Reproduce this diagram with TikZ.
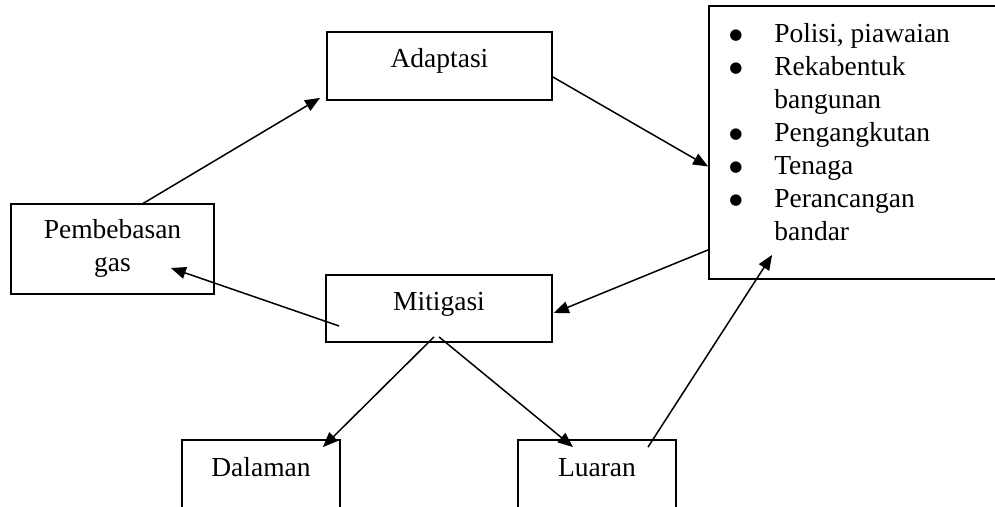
\documentclass[tikz,border=0pt]{standalone}
\usepackage{fontspec}
\setmainfont{Liberation Serif}
\newfontfamily\bulfont{DejaVu Sans}
\usetikzlibrary{arrows.meta}
\newcommand{\bigbul}{\makebox[45pt][l]{\raisebox{2.5pt}{\bulfont\fontsize{15pt}{18pt}\selectfont ●}}}
\begin{document}
\begin{tikzpicture}[x=1pt,y=-1pt,
  box/.style={draw, line width=1.8pt, rectangle, inner sep=0pt},
  lbl/.style={anchor=base, inner sep=0pt, font=\fontsize{27.5pt}{33pt}\selectfont},
  conn/.style={line width=1.5pt, -{Triangle[length=15pt,width=12pt]}}]
\useasboundingbox (0,0) rectangle (995,506);
\clip (0,0) rectangle (995,506);
% boxes
\node[box, minimum width=225pt, minimum height=68pt] (adapt) at (439.5,66) {};
\node[box, minimum width=203pt, minimum height=90pt] (pemb) at (112.5,249) {};
\node[box, minimum width=226pt, minimum height=67pt] (mit) at (439,308.5) {};
\node[box, minimum width=158pt, minimum height=90pt] (dal) at (261,485) {};
\node[box, minimum width=158pt, minimum height=90pt] (lua) at (597,485) {};
\node[box, minimum width=301pt, minimum height=273pt] (list) at (859.5,142.5) {};
% texts
\node[lbl] (tadapt) at ([shift={(0,36)}]adapt.north) {Adaptasi};
\node[lbl] (tpemb) at ([shift={(0,35)}]pemb.north) {\begin{tabular}[t]{@{}c@{}}Pembebasan\\gas\end{tabular}};
\node[lbl] (tmit) at ([shift={(0,36)}]mit.north) {Mitigasi};
\node[lbl] (tdal) at ([shift={(0,37)}]dal.north) {Dalaman};
\node[lbl] (tlua) at ([shift={(0,37)}]lua.north) {Luaran};
\node[lbl, anchor=base west] (tlist) at ([shift={(21,37)}]list.north west) {%
\begin{tabular}[t]{@{}l@{}l@{}}
\bigbul & Polisi, piawaian\\
\bigbul & Rekabentuk\\
 & bangunan\\
\bigbul & Pengangkutan\\
\bigbul & Tenaga\\
\bigbul & Perancangan\\
 & bandar
\end{tabular}};
% connectors
\draw[conn] ([shift={(29.5,1)}]pemb.north) -- ([shift={(-6,-3)}]adapt.south west);
\draw[conn] ([shift={(0,11)}]adapt.east) -- ([shift={(0,24)}]list.west);
\draw[conn] ([shift={(0,-30)}]list.south west) -- ([shift={(1,4.5)}]mit.east);
\draw[conn] ([shift={(14,17.5)}]mit.west) -- ([shift={(-44,19)}]pemb.east);
\draw[conn] ([shift={(-5,-6)}]mit.south) -- ([shift={(-18,8)}]dal.north east);
\draw[conn] ([shift={(0,-6)}]mit.south) -- ([shift={(-24,8)}]lua.north);
\draw[conn] ([shift={(51,8)}]lua.north) -- ([shift={(64,-25)}]list.south west);
\end{tikzpicture}
\end{document}
